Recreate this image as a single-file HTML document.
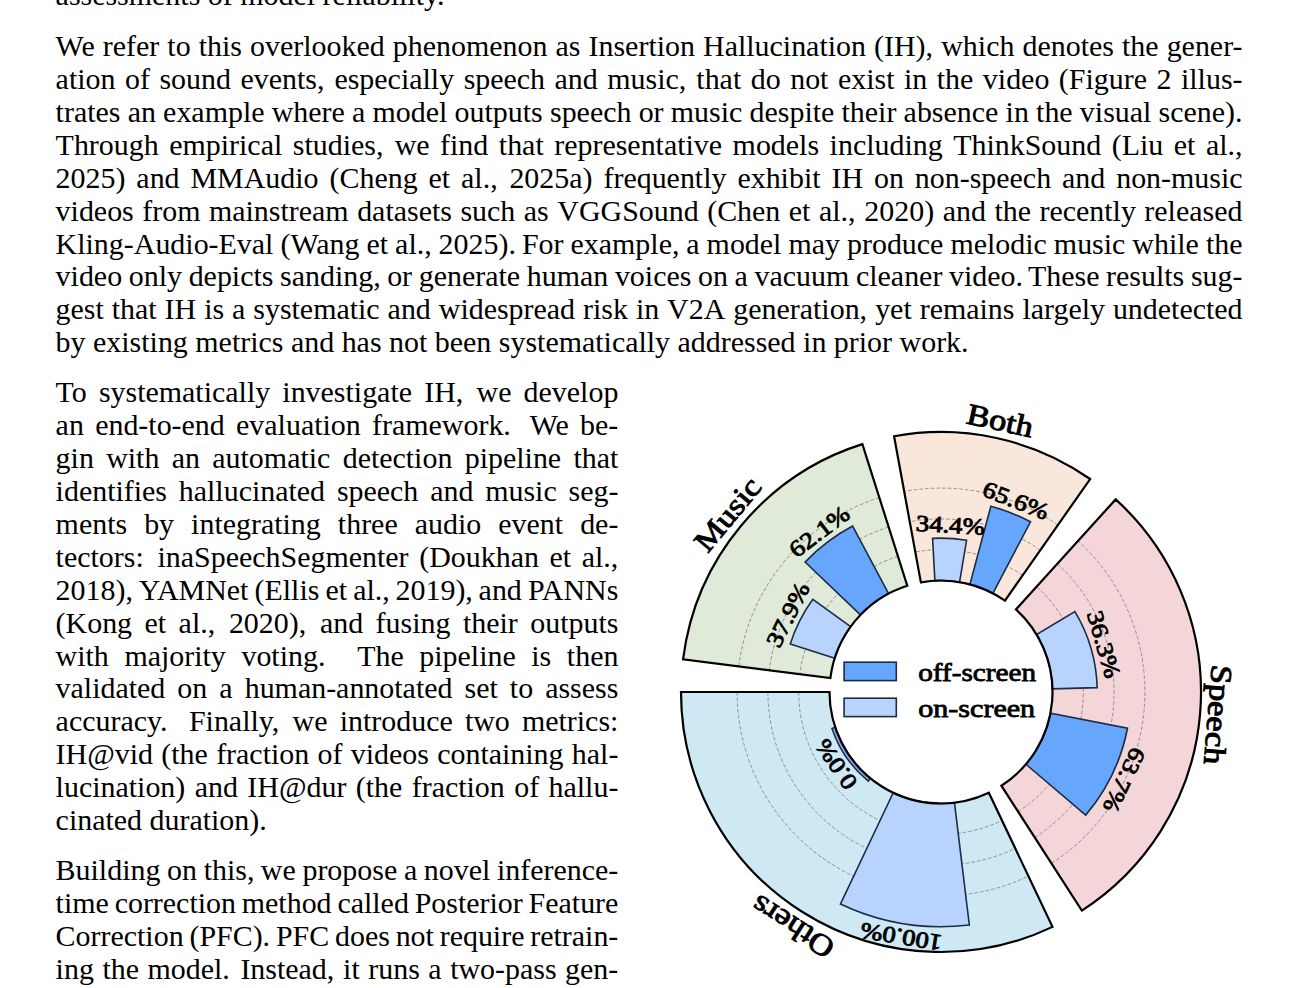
<!DOCTYPE html>
<html><head><meta charset="utf-8"><style>
html,body{margin:0;padding:0;background:#fff;width:1300px;height:988px;overflow:hidden;position:relative}
.ln{position:absolute;left:55.6px;font-family:"Liberation Serif",serif;font-size:29.95px;line-height:33.0px;color:#000;white-space:nowrap;}
.chart{position:absolute;left:0;top:0}
.pl{font-family:"Liberation Serif",serif;font-weight:normal;font-size:23px;fill:#000;stroke:#000;stroke-width:0.9px}
.cl{font-family:"Liberation Serif",serif;font-weight:normal;font-size:30px;fill:#000;stroke:#000;stroke-width:0.95px}
.lg{font-family:"Liberation Serif",serif;font-weight:normal;font-size:25.5px;fill:#000;stroke:#000;stroke-width:0.8px}
</style></head><body>
<div class="ln" style="top:-21.71px">assessments<span style="word-spacing:0.000px"> </span>of<span style="word-spacing:0.000px"> </span>model<span style="word-spacing:0.000px"> </span>reliability.</div>
<div class="ln" style="top:28.74px">We<span style="word-spacing:0.571px"> </span>refer<span style="word-spacing:0.571px"> </span>to<span style="word-spacing:0.571px"> </span>this<span style="word-spacing:0.571px"> </span>overlooked<span style="word-spacing:0.571px"> </span>phenomenon<span style="word-spacing:0.571px"> </span>as<span style="word-spacing:0.571px"> </span>Insertion<span style="word-spacing:0.571px"> </span>Hallucination<span style="word-spacing:0.571px"> </span>(IH),<span style="word-spacing:0.713px"> </span>which<span style="word-spacing:0.571px"> </span>denotes<span style="word-spacing:0.571px"> </span>the<span style="word-spacing:0.571px"> </span>gener-</div>
<div class="ln" style="top:61.70px">ation<span style="word-spacing:2.005px"> </span>of<span style="word-spacing:2.005px"> </span>sound<span style="word-spacing:2.005px"> </span>events,<span style="word-spacing:2.507px"> </span>especially<span style="word-spacing:2.005px"> </span>speech<span style="word-spacing:2.005px"> </span>and<span style="word-spacing:2.005px"> </span>music,<span style="word-spacing:2.507px"> </span>that<span style="word-spacing:2.005px"> </span>do<span style="word-spacing:2.005px"> </span>not<span style="word-spacing:2.005px"> </span>exist<span style="word-spacing:2.005px"> </span>in<span style="word-spacing:2.005px"> </span>the<span style="word-spacing:2.005px"> </span>video<span style="word-spacing:2.005px"> </span>(Figure<span style="word-spacing:2.005px"> </span>2<span style="word-spacing:2.005px"> </span>illus-</div>
<div class="ln" style="top:94.66px">trates<span style="word-spacing:-0.290px"> </span>an<span style="word-spacing:-0.290px"> </span>example<span style="word-spacing:-0.290px"> </span>where<span style="word-spacing:-0.290px"> </span>a<span style="word-spacing:-0.290px"> </span>model<span style="word-spacing:-0.290px"> </span>outputs<span style="word-spacing:-0.290px"> </span>speech<span style="word-spacing:-0.290px"> </span>or<span style="word-spacing:-0.290px"> </span>music<span style="word-spacing:-0.290px"> </span>despite<span style="word-spacing:-0.290px"> </span>their<span style="word-spacing:-0.290px"> </span>absence<span style="word-spacing:-0.290px"> </span>in<span style="word-spacing:-0.290px"> </span>the<span style="word-spacing:-0.290px"> </span>visual<span style="word-spacing:-0.290px"> </span>scene).</div>
<div class="ln" style="top:127.62px">Through<span style="word-spacing:3.011px"> </span>empirical<span style="word-spacing:3.011px"> </span>studies,<span style="word-spacing:3.764px"> </span>we<span style="word-spacing:3.011px"> </span>find<span style="word-spacing:3.011px"> </span>that<span style="word-spacing:3.011px"> </span>representative<span style="word-spacing:3.011px"> </span>models<span style="word-spacing:3.011px"> </span>including<span style="word-spacing:3.011px"> </span>ThinkSound<span style="word-spacing:3.011px"> </span>(Liu<span style="word-spacing:3.011px"> </span>et<span style="word-spacing:3.011px"> </span>al.,</div>
<div class="ln" style="top:160.58px">2025)<span style="word-spacing:3.410px"> </span>and<span style="word-spacing:3.410px"> </span>MMAudio<span style="word-spacing:3.410px"> </span>(Cheng<span style="word-spacing:3.410px"> </span>et<span style="word-spacing:3.410px"> </span>al.,<span style="word-spacing:4.263px"> </span>2025a)<span style="word-spacing:3.410px"> </span>frequently<span style="word-spacing:3.410px"> </span>exhibit<span style="word-spacing:3.410px"> </span>IH<span style="word-spacing:3.410px"> </span>on<span style="word-spacing:3.410px"> </span>non-speech<span style="word-spacing:3.410px"> </span>and<span style="word-spacing:3.410px"> </span>non-music</div>
<div class="ln" style="top:193.54px">videos<span style="word-spacing:1.014px"> </span>from<span style="word-spacing:1.014px"> </span>mainstream<span style="word-spacing:1.014px"> </span>datasets<span style="word-spacing:1.014px"> </span>such<span style="word-spacing:1.014px"> </span>as<span style="word-spacing:1.014px"> </span>VGGSound<span style="word-spacing:1.014px"> </span>(Chen<span style="word-spacing:1.014px"> </span>et<span style="word-spacing:1.014px"> </span>al.,<span style="word-spacing:1.268px"> </span>2020)<span style="word-spacing:1.014px"> </span>and<span style="word-spacing:1.014px"> </span>the<span style="word-spacing:1.014px"> </span>recently<span style="word-spacing:1.014px"> </span>released</div>
<div class="ln" style="top:226.50px">Kling-Audio-Eval<span style="word-spacing:-0.489px"> </span>(Wang<span style="word-spacing:-0.489px"> </span>et<span style="word-spacing:-0.489px"> </span>al.,<span style="word-spacing:-0.611px"> </span>2025).<span style="word-spacing:-1.466px"> </span>For<span style="word-spacing:-0.489px"> </span>example,<span style="word-spacing:-0.611px"> </span>a<span style="word-spacing:-0.489px"> </span>model<span style="word-spacing:-0.489px"> </span>may<span style="word-spacing:-0.489px"> </span>produce<span style="word-spacing:-0.489px"> </span>melodic<span style="word-spacing:-0.489px"> </span>music<span style="word-spacing:-0.489px"> </span>while<span style="word-spacing:-0.489px"> </span>the</div>
<div class="ln" style="top:259.46px">video<span style="word-spacing:-0.849px"> </span>only<span style="word-spacing:-0.849px"> </span>depicts<span style="word-spacing:-0.849px"> </span>sanding,<span style="word-spacing:-1.061px"> </span>or<span style="word-spacing:-0.849px"> </span>generate<span style="word-spacing:-0.849px"> </span>human<span style="word-spacing:-0.849px"> </span>voices<span style="word-spacing:-0.849px"> </span>on<span style="word-spacing:-0.849px"> </span>a<span style="word-spacing:-0.849px"> </span>vacuum<span style="word-spacing:-0.849px"> </span>cleaner<span style="word-spacing:-0.849px"> </span>video.<span style="word-spacing:-2.546px"> </span>These<span style="word-spacing:-0.849px"> </span>results<span style="word-spacing:-0.849px"> </span>sug-</div>
<div class="ln" style="top:292.42px">gest<span style="word-spacing:0.441px"> </span>that<span style="word-spacing:0.441px"> </span>IH<span style="word-spacing:0.441px"> </span>is<span style="word-spacing:0.441px"> </span>a<span style="word-spacing:0.441px"> </span>systematic<span style="word-spacing:0.441px"> </span>and<span style="word-spacing:0.441px"> </span>widespread<span style="word-spacing:0.441px"> </span>risk<span style="word-spacing:0.441px"> </span>in<span style="word-spacing:0.441px"> </span>V2A<span style="word-spacing:0.441px"> </span>generation,<span style="word-spacing:0.551px"> </span>yet<span style="word-spacing:0.441px"> </span>remains<span style="word-spacing:0.441px"> </span>largely<span style="word-spacing:0.441px"> </span>undetected</div>
<div class="ln" style="top:325.38px">by<span style="word-spacing:0.000px"> </span>existing<span style="word-spacing:0.000px"> </span>metrics<span style="word-spacing:0.000px"> </span>and<span style="word-spacing:0.000px"> </span>has<span style="word-spacing:0.000px"> </span>not<span style="word-spacing:0.000px"> </span>been<span style="word-spacing:0.000px"> </span>systematically<span style="word-spacing:0.000px"> </span>addressed<span style="word-spacing:0.000px"> </span>in<span style="word-spacing:0.000px"> </span>prior<span style="word-spacing:0.000px"> </span>work.</div>
<div class="ln" style="top:374.84px">To<span style="word-spacing:4.644px"> </span>systematically<span style="word-spacing:4.644px"> </span>investigate<span style="word-spacing:4.644px"> </span>IH,<span style="word-spacing:5.806px"> </span>we<span style="word-spacing:4.644px"> </span>develop</div>
<div class="ln" style="top:407.80px">an<span style="word-spacing:3.778px"> </span>end-to-end<span style="word-spacing:3.778px"> </span>evaluation<span style="word-spacing:3.778px"> </span>framework.<span style="word-spacing:11.335px"> </span>We<span style="word-spacing:3.778px"> </span>be-</div>
<div class="ln" style="top:440.76px">gin<span style="word-spacing:4.819px"> </span>with<span style="word-spacing:4.819px"> </span>an<span style="word-spacing:4.819px"> </span>automatic<span style="word-spacing:4.819px"> </span>detection<span style="word-spacing:4.819px"> </span>pipeline<span style="word-spacing:4.819px"> </span>that</div>
<div class="ln" style="top:473.72px">identifies<span style="word-spacing:4.302px"> </span>hallucinated<span style="word-spacing:4.302px"> </span>speech<span style="word-spacing:4.302px"> </span>and<span style="word-spacing:4.302px"> </span>music<span style="word-spacing:4.302px"> </span>seg-</div>
<div class="ln" style="top:506.68px">ments<span style="word-spacing:9.535px"> </span>by<span style="word-spacing:9.535px"> </span>integrating<span style="word-spacing:9.535px"> </span>three<span style="word-spacing:9.535px"> </span>audio<span style="word-spacing:9.535px"> </span>event<span style="word-spacing:9.535px"> </span>de-</div>
<div class="ln" style="top:539.64px">tectors:<span style="word-spacing:6.278px"> </span>inaSpeechSegmenter<span style="word-spacing:3.139px"> </span>(Doukhan<span style="word-spacing:3.139px"> </span>et<span style="word-spacing:3.139px"> </span>al.,</div>
<div class="ln" style="top:572.60px">2018),<span style="word-spacing:-1.752px"> </span>YAMNet<span style="word-spacing:-1.402px"> </span>(Ellis<span style="word-spacing:-1.402px"> </span>et<span style="word-spacing:-1.402px"> </span>al.,<span style="word-spacing:-1.752px"> </span>2019),<span style="word-spacing:-1.752px"> </span>and<span style="word-spacing:-1.402px"> </span>PANNs</div>
<div class="ln" style="top:605.56px">(Kong<span style="word-spacing:4.954px"> </span>et<span style="word-spacing:4.954px"> </span>al.,<span style="word-spacing:6.192px"> </span>2020),<span style="word-spacing:6.192px"> </span>and<span style="word-spacing:4.954px"> </span>fusing<span style="word-spacing:4.954px"> </span>their<span style="word-spacing:4.954px"> </span>outputs</div>
<div class="ln" style="top:638.52px">with<span style="word-spacing:8.080px"> </span>majority<span style="word-spacing:8.080px"> </span>voting.<span style="word-spacing:24.239px"> </span>The<span style="word-spacing:8.080px"> </span>pipeline<span style="word-spacing:8.080px"> </span>is<span style="word-spacing:8.080px"> </span>then</div>
<div class="ln" style="top:671.48px">validated<span style="word-spacing:4.543px"> </span>on<span style="word-spacing:4.543px"> </span>a<span style="word-spacing:4.543px"> </span>human-annotated<span style="word-spacing:4.543px"> </span>set<span style="word-spacing:4.543px"> </span>to<span style="word-spacing:4.543px"> </span>assess</div>
<div class="ln" style="top:704.44px">accuracy.<span style="word-spacing:13.950px"> </span>Finally,<span style="word-spacing:5.813px"> </span>we<span style="word-spacing:4.650px"> </span>introduce<span style="word-spacing:4.650px"> </span>two<span style="word-spacing:4.650px"> </span>metrics:</div>
<div class="ln" style="top:737.40px">IH@vid<span style="word-spacing:0.783px"> </span>(the<span style="word-spacing:0.783px"> </span>fraction<span style="word-spacing:0.783px"> </span>of<span style="word-spacing:0.783px"> </span>videos<span style="word-spacing:0.783px"> </span>containing<span style="word-spacing:0.783px"> </span>hal-</div>
<div class="ln" style="top:770.36px">lucination)<span style="word-spacing:1.892px"> </span>and<span style="word-spacing:1.892px"> </span>IH@dur<span style="word-spacing:1.892px"> </span>(the<span style="word-spacing:1.892px"> </span>fraction<span style="word-spacing:1.892px"> </span>of<span style="word-spacing:1.892px"> </span>hallu-</div>
<div class="ln" style="top:803.32px">cinated<span style="word-spacing:0.000px"> </span>duration).</div>
<div class="ln" style="top:853.24px">Building<span style="word-spacing:-0.833px"> </span>on<span style="word-spacing:-0.833px"> </span>this,<span style="word-spacing:-1.041px"> </span>we<span style="word-spacing:-0.833px"> </span>propose<span style="word-spacing:-0.833px"> </span>a<span style="word-spacing:-0.833px"> </span>novel<span style="word-spacing:-0.833px"> </span>inference-</div>
<div class="ln" style="top:886.20px">time<span style="word-spacing:-1.686px"> </span>correction<span style="word-spacing:-1.686px"> </span>method<span style="word-spacing:-1.686px"> </span>called<span style="word-spacing:-1.686px"> </span>Posterior<span style="word-spacing:-1.686px"> </span>Feature</div>
<div class="ln" style="top:919.16px">Correction<span style="word-spacing:-1.707px"> </span>(PFC).<span style="word-spacing:-1.707px"> </span>PFC<span style="word-spacing:-1.707px"> </span>does<span style="word-spacing:-1.707px"> </span>not<span style="word-spacing:-1.707px"> </span>require<span style="word-spacing:-1.707px"> </span>retrain-</div>
<div class="ln" style="top:952.12px">ing<span style="word-spacing:1.030px"> </span>the<span style="word-spacing:1.030px"> </span>model.<span style="word-spacing:3.091px"> </span>Instead,<span style="word-spacing:1.288px"> </span>it<span style="word-spacing:1.030px"> </span>runs<span style="word-spacing:1.030px"> </span>a<span style="word-spacing:1.030px"> </span>two-pass<span style="word-spacing:1.030px"> </span>gen-</div>
<svg class="chart" width="1300" height="988" viewBox="0 0 1300 988">
<path d="M862.38,444.17 A260.0,260.0 0 0 0 683.05,659.41 L830.38,678.03 A111.5,111.5 0 0 1 907.29,585.72 Z" fill="#dfead8"/>
<path d="M1090.13,479.02 A260.0,260.0 0 0 0 894.07,436.27 L920.87,582.33 A111.5,111.5 0 0 1 1004.95,600.66 Z" fill="#fae7db"/>
<path d="M1081.84,910.55 A260.0,260.0 0 0 0 1115.65,499.39 L1015.90,609.40 A111.5,111.5 0 0 1 1001.40,785.72 Z" fill="#f4d6d9"/>
<path d="M681.00,692.00 A260.0,260.0 0 0 0 1052.52,926.87 L988.83,792.72 A111.5,111.5 0 0 1 829.50,692.00 Z" fill="#cfe9f4"/>
<path d="M897.97,556.36 A142.3,142.3 0 0 0 799.82,674.17" fill="none" stroke="#767676" stroke-width="0.75" stroke-dasharray="3.7 2.0"/>
<path d="M888.66,527.00 A173.1,173.1 0 0 0 769.26,670.30" fill="none" stroke="#767676" stroke-width="0.75" stroke-dasharray="3.7 2.0"/>
<path d="M879.35,497.64 A203.9,203.9 0 0 0 738.71,666.44" fill="none" stroke="#767676" stroke-width="0.75" stroke-dasharray="3.7 2.0"/>
<path d="M1022.62,575.43 A142.3,142.3 0 0 0 915.31,552.04" fill="none" stroke="#767676" stroke-width="0.75" stroke-dasharray="3.7 2.0"/>
<path d="M1040.29,550.20 A173.1,173.1 0 0 0 909.75,521.74" fill="none" stroke="#767676" stroke-width="0.75" stroke-dasharray="3.7 2.0"/>
<path d="M1057.95,524.97 A203.9,203.9 0 0 0 904.19,491.45" fill="none" stroke="#767676" stroke-width="0.75" stroke-dasharray="3.7 2.0"/>
<path d="M1018.09,811.61 A142.3,142.3 0 0 0 1036.59,586.58" fill="none" stroke="#767676" stroke-width="0.75" stroke-dasharray="3.7 2.0"/>
<path d="M1034.77,837.50 A173.1,173.1 0 0 0 1057.27,563.77" fill="none" stroke="#767676" stroke-width="0.75" stroke-dasharray="3.7 2.0"/>
<path d="M1051.45,863.39 A203.9,203.9 0 0 0 1077.96,540.95" fill="none" stroke="#767676" stroke-width="0.75" stroke-dasharray="3.7 2.0"/>
<path d="M798.70,692.00 A142.3,142.3 0 0 0 1002.04,820.54" fill="none" stroke="#767676" stroke-width="0.75" stroke-dasharray="3.7 2.0"/>
<path d="M767.90,692.00 A173.1,173.1 0 0 0 1015.25,848.37" fill="none" stroke="#767676" stroke-width="0.75" stroke-dasharray="3.7 2.0"/>
<path d="M737.10,692.00 A203.9,203.9 0 0 0 1028.46,876.19" fill="none" stroke="#767676" stroke-width="0.75" stroke-dasharray="3.7 2.0"/>
<path d="M852.64,526.05 A188.0072,188.0072 0 0 0 805.10,562.08 L860.41,614.95 A111.5,111.5 0 0 1 888.60,593.58 Z" fill="#66a7fd" stroke="#1d2b45" stroke-width="1.6" stroke-linejoin="miter"/>
<path d="M812.84,599.27 A158.1928,158.1928 0 0 0 790.24,644.08 L834.74,658.23 A111.5,111.5 0 0 1 850.67,626.64 Z" fill="#b8d3fd" stroke="#1d2b45" stroke-width="1.6" stroke-linejoin="miter"/>
<path d="M1030.51,521.78 A192.3192,192.3192 0 0 0 990.85,506.25 L969.90,584.31 A111.5,111.5 0 0 1 992.89,593.31 Z" fill="#66a7fd" stroke="#1d2b45" stroke-width="1.6" stroke-linejoin="miter"/>
<path d="M966.60,540.26 A153.8808,153.8808 0 0 0 932.58,538.35 L934.90,580.67 A111.5,111.5 0 0 1 959.55,582.05 Z" fill="#b8d3fd" stroke="#1d2b45" stroke-width="1.6" stroke-linejoin="miter"/>
<path d="M1085.68,815.13 A189.97840000000002,189.97840000000002 0 0 0 1127.49,728.25 L1050.45,713.28 A111.5,111.5 0 0 1 1025.91,764.27 Z" fill="#66a7fd" stroke="#1d2b45" stroke-width="1.6" stroke-linejoin="miter"/>
<path d="M1097.16,687.64 A156.2216,156.2216 0 0 0 1074.91,611.54 L1036.57,634.57 A111.5,111.5 0 0 1 1052.46,688.89 Z" fill="#b8d3fd" stroke="#1d2b45" stroke-width="1.6" stroke-linejoin="miter"/>
<path d="M831.92,728.42 A115.0,115.0 0 0 0 868.28,781.09 L870.49,778.38 A111.5,111.5 0 0 1 835.24,727.31 Z" fill="#86a3ea" stroke="#1d2b45" stroke-width="1.5"/>
<path d="M840.42,904.05 A234.7,234.7 0 0 0 969.34,924.98 L954.46,802.68 A111.5,111.5 0 0 1 893.22,792.74 Z" fill="#b8d3fd" stroke="#1d2b45" stroke-width="1.6" stroke-linejoin="miter"/>
<path d="M862.38,444.17 A260.0,260.0 0 0 0 683.05,659.41 L830.38,678.03 A111.5,111.5 0 0 1 907.29,585.72 Z" fill="none" stroke="#000" stroke-width="2.2" stroke-linejoin="miter"/>
<path d="M1090.13,479.02 A260.0,260.0 0 0 0 894.07,436.27 L920.87,582.33 A111.5,111.5 0 0 1 1004.95,600.66 Z" fill="none" stroke="#000" stroke-width="2.2" stroke-linejoin="miter"/>
<path d="M1081.84,910.55 A260.0,260.0 0 0 0 1115.65,499.39 L1015.90,609.40 A111.5,111.5 0 0 1 1001.40,785.72 Z" fill="none" stroke="#000" stroke-width="2.2" stroke-linejoin="miter"/>
<path d="M681.00,692.00 A260.0,260.0 0 0 0 1052.52,926.87 L988.83,792.72 A111.5,111.5 0 0 1 829.50,692.00 Z" fill="none" stroke="#000" stroke-width="2.2" stroke-linejoin="miter"/>
<text class="pl" transform="translate(819.28,531.41) rotate(-37.16) scale(1.16,1)" text-anchor="middle" dominant-baseline="central">62.1%</text>
<text class="pl" transform="translate(787.70,614.69) rotate(-63.24) scale(1.16,1)" text-anchor="middle" dominant-baseline="central">37.9%</text>
<text class="pl" transform="translate(1016.03,500.34) rotate(21.38) scale(1.16,1)" text-anchor="middle" dominant-baseline="central">65.6%</text>
<text class="pl" transform="translate(950.40,524.88) rotate(3.22) scale(1.16,1)" text-anchor="middle" dominant-baseline="central">34.4%</text>
<text class="pl" transform="translate(1124.35,780.24) rotate(115.70) scale(1.16,1)" text-anchor="middle" dominant-baseline="central">63.7%</text>
<text class="pl" transform="translate(1103.90,644.36) rotate(73.70) scale(1.16,1)" text-anchor="middle" dominant-baseline="central">36.3%</text>
<text class="pl" transform="translate(836.08,764.44) rotate(-124.62) scale(1.16,1)" text-anchor="middle" dominant-baseline="central">0.0%</text>
<text class="pl" transform="translate(901.23,936.99) rotate(-170.78) scale(1.16,1)" text-anchor="middle" dominant-baseline="central">100.0%</text>
<text class="cl" transform="translate(727.42,514.05) rotate(-50.20) scale(1.15,1)" text-anchor="middle" dominant-baseline="central">Music</text>
<text class="cl" transform="translate(1000.22,420.38) rotate(12.30) scale(1.15,1)" text-anchor="middle" dominant-baseline="central">Both</text>
<text class="cl" transform="translate(1218.07,714.78) rotate(94.70) scale(1.15,1)" text-anchor="middle" dominant-baseline="central">Speech</text>
<text class="cl" transform="translate(792.45,926.98) rotate(-147.70) scale(1.15,1)" text-anchor="middle" dominant-baseline="central">Others</text>
<rect x="844.1" y="662.2" width="52.2" height="18.4" fill="#66a7fd" stroke="#1d2b45" stroke-width="1.6"/>
<rect x="844.1" y="698.2" width="52.2" height="18.4" fill="#b8d3fd" stroke="#1d2b45" stroke-width="1.6"/>
<text class="lg" x="918.2" y="680.7" textLength="117.8" lengthAdjust="spacingAndGlyphs">off-screen</text>
<text class="lg" x="918.2" y="716.6" textLength="117.0" lengthAdjust="spacingAndGlyphs">on-screen</text>
</svg>
</body></html>
